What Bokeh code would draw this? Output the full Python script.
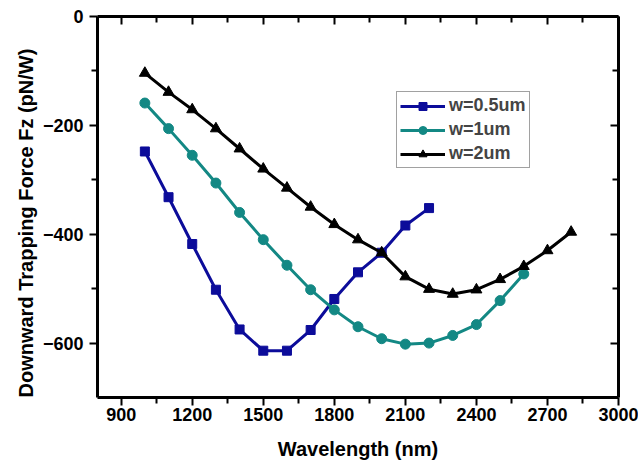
from bokeh.plotting import figure
from bokeh.models import LinearAxis, FixedTicker, Range1d, Legend, Title, CustomJSTickFormatter
from bokeh.embed import file_html
from bokeh.resources import INLINE

# Data
wl_05 = [1000, 1100, 1200, 1300, 1400, 1500, 1600, 1700, 1800, 1900, 2000, 2100, 2200]
fz_05 = [-248, -332, -418, -502, -575, -614, -614, -576, -519, -470, -434, -384, -352]

wl_1 = [1000, 1100, 1200, 1300, 1400, 1500, 1600, 1700, 1800, 1900, 2000, 2100, 2200, 2300, 2400, 2500, 2600]
fz_1 = [-159, -206, -255, -306, -360, -410, -457, -502, -539, -570, -592, -602, -600, -586, -566, -522, -473]

wl_2 = [1000, 1100, 1200, 1300, 1400, 1500, 1600, 1700, 1800, 1900, 2000, 2100, 2200, 2300, 2400, 2500, 2600, 2700, 2800]
fz_2 = [-104, -139, -171, -206, -243, -280, -315, -350, -382, -410, -434, -478, -501, -510, -502, -483, -459, -430, -396]

x_major = [900, 1200, 1500, 1800, 2100, 2400, 2700, 3000]
x_minor = [1050, 1350, 1650, 1950, 2250, 2550, 2850]
y_major = [-600, -400, -200, 0]
y_minor = [-500, -300, -100]

labels = ["w=0.5um", "w=1um", "w=2um"]
colors = ["#0c0c9a", "#138884", "#000000"]
x_title = "Wavelength (nm)"
y_title = "Downward Trapping Force Fz (pN/W)"

FONT = "Liberation Sans"

p = figure(width=638, height=468, output_backend="svg", toolbar_location=None,
           x_range=Range1d(800, 3000), y_range=Range1d(-700, 0),
           x_axis_label=x_title,
           min_border_left=97, min_border_right=20, min_border_top=16, min_border_bottom=71)
p.grid.visible = False
p.outline_line_color = None
p.background_fill_color = "white"
p.border_fill_color = "white"

xt = FixedTicker(ticks=x_major, minor_ticks=x_minor)
yt = FixedTicker(ticks=y_major, minor_ticks=y_minor)

for ax, tk in ((p.xaxis[0], xt), (p.yaxis[0], yt)):
    ax.ticker = tk
    ax.axis_line_width = 3
    ax.major_tick_line_width = 2
    ax.minor_tick_line_width = 2
    ax.major_tick_out = 8
    ax.major_tick_in = 0
    ax.minor_tick_out = 6
    ax.minor_tick_in = 0
    ax.major_label_text_font = FONT
    ax.major_label_text_font_style = "bold"
    ax.major_label_text_font_size = "18px"
    ax.major_label_text_color = "black"
    ax.axis_label_text_font = FONT
    ax.axis_label_text_font_style = "bold"
    ax.axis_label_text_font_size = "20px"
    ax.axis_label_text_color = "black"
p.xaxis[0].major_label_standoff = 2
p.xaxis[0].axis_label_standoff = 14
p.yaxis[0].major_label_standoff = 6

blank = CustomJSTickFormatter(code="return '';")
for loc, tk in (("above", xt), ("right", yt)):
    ax = LinearAxis(ticker=tk, formatter=blank, axis_line_width=3,
                    major_tick_line_width=2, minor_tick_line_width=2,
                    major_tick_out=0, major_tick_in=8, minor_tick_out=0, minor_tick_in=6,
                    major_label_standoff=0, major_label_text_font_size="1px",
                    axis_label_standoff=0)
    p.add_layout(ax, loc)

# y axis title, as a left-side title starting at the bottom of the frame like the reference
ytitle = Title(text=y_title, align="left", offset=0, standoff=5,
               text_font=FONT, text_font_style="bold", text_font_size="20px",
               text_color="black")
p.add_layout(ytitle, "left")

r1 = p.line(wl_05, fz_05, line_color=colors[0], line_width=3)
s1 = p.scatter(wl_05, fz_05, marker="square", size=9, fill_color=colors[0], line_color=colors[0])
r2 = p.line(wl_1, fz_1, line_color=colors[1], line_width=3)
s2 = p.scatter(wl_1, fz_1, marker="circle", size=10, fill_color=colors[1], line_color=colors[1])
r3 = p.line(wl_2, fz_2, line_color=colors[2], line_width=3)
s3 = p.scatter(wl_2, fz_2, marker="triangle", size=11, fill_color=colors[2], line_color=colors[2])

legend = Legend(items=[(labels[0], [r1, s1]), (labels[1], [r2, s2]), (labels[2], [r3, s3])],
                location=(299, 229), glyph_width=45, glyph_height=20, label_height=20,
                label_standoff=4, padding=3, spacing=3, margin=0,
                label_text_font=FONT, label_text_font_style="bold", label_text_font_size="18px",
                border_line_color="#444444", border_line_width=1, background_fill_alpha=1)
p.add_layout(legend, "center")

open("out.html", "w").write(file_html(p, INLINE))
